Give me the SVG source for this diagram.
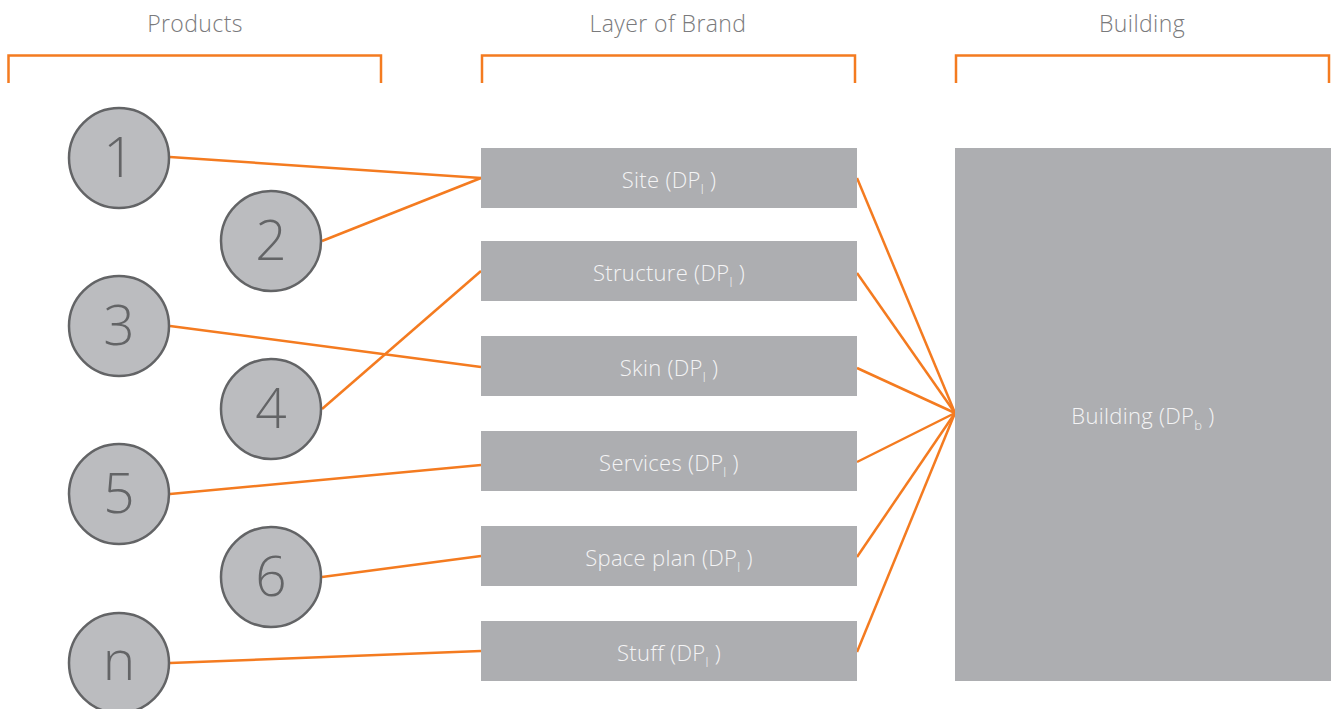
<svg xmlns="http://www.w3.org/2000/svg" width="1338" height="709" viewBox="0 0 1338 709">
<style>
.hdr{font-family:"Open Sans",Lato,"Liberation Sans",sans-serif;font-weight:300;font-size:23px;letter-spacing:0.4px;fill:#7a7a7c;text-anchor:middle}
.br{fill:none;stroke:#f47b20;stroke-width:2.5}
.c{fill:#bbbcbf;stroke:#636466;stroke-width:2.5}
.num{font-family:"Open Sans",Lato,"Liberation Sans",sans-serif;font-weight:300;font-size:55px;fill:#636466;text-anchor:middle}
.box{fill:#adaeb1}
.lbl{font-family:"Open Sans",Lato,"Liberation Sans",sans-serif;font-weight:300;font-size:22px;letter-spacing:0.3px;fill:#f4f4f5;text-anchor:middle}
.sub{font-size:13px}
.ln{stroke:#f47b20;stroke-width:2.5;fill:none}
</style>
<g id="headers">
<text class="hdr" x="195" y="32">Products</text>
<text class="hdr" x="668" y="32">Layer of Brand</text>
<text class="hdr" x="1142" y="32">Building</text>
<path class="br" d="M8.5 83V55.5H381V83"/>
<path class="br" d="M482 83V55.5H855V83"/>
<path class="br" d="M956 83V55.5H1329V83"/>
</g>
<g id="connectors">
<line class="ln" x1="170" y1="157" x2="481" y2="178"/>
<line class="ln" x1="322" y1="241" x2="481" y2="178"/>
<line class="ln" x1="170" y1="326" x2="481" y2="367"/>
<line class="ln" x1="322" y1="409" x2="481" y2="271"/>
<line class="ln" x1="170" y1="494" x2="481" y2="465"/>
<line class="ln" x1="322" y1="577" x2="481" y2="556"/>
<line class="ln" x1="170" y1="663" x2="481" y2="651"/>
<line class="ln" x1="857" y1="178" x2="955" y2="413"/>
<line class="ln" x1="857" y1="273" x2="955" y2="413"/>
<line class="ln" x1="857" y1="368" x2="955" y2="413"/>
<line class="ln" x1="857" y1="462" x2="955" y2="413"/>
<line class="ln" x1="857" y1="557" x2="955" y2="413"/>
<line class="ln" x1="857" y1="652" x2="955" y2="413"/>
</g>
<g id="p1"><circle class="c" cx="119" cy="158" r="50"/><text class="num" x="119" y="177">1</text></g>
<g id="p2"><circle class="c" cx="271" cy="241" r="50"/><text class="num" x="271" y="260">2</text></g>
<g id="p3"><circle class="c" cx="119" cy="326" r="50"/><text class="num" x="119" y="345">3</text></g>
<g id="p4"><circle class="c" cx="271" cy="409" r="50"/><text class="num" x="271" y="428">4</text></g>
<g id="p5"><circle class="c" cx="119" cy="494" r="50"/><text class="num" x="119" y="513">5</text></g>
<g id="p6"><circle class="c" cx="271" cy="577" r="50"/><text class="num" x="271" y="596">6</text></g>
<g id="pn"><circle class="c" cx="119" cy="663" r="50"/><text class="num" x="119" y="680">n</text></g>
<g id="site"><rect class="box" x="481" y="148" width="376" height="60"/><text class="lbl" x="669" y="188">Site (DP<tspan class="sub" dy="6">l</tspan><tspan dy="-6"> )</tspan></text></g>
<g id="structure"><rect class="box" x="481" y="241" width="376" height="60"/><text class="lbl" x="669" y="281">Structure (DP<tspan class="sub" dy="6">l</tspan><tspan dy="-6"> )</tspan></text></g>
<g id="skin"><rect class="box" x="481" y="336" width="376" height="60"/><text class="lbl" x="669" y="376">Skin (DP<tspan class="sub" dy="6">l</tspan><tspan dy="-6"> )</tspan></text></g>
<g id="services"><rect class="box" x="481" y="431" width="376" height="60"/><text class="lbl" x="669" y="471">Services (DP<tspan class="sub" dy="6">l</tspan><tspan dy="-6"> )</tspan></text></g>
<g id="spaceplan"><rect class="box" x="481" y="526" width="376" height="60"/><text class="lbl" x="669" y="566">Space plan (DP<tspan class="sub" dy="6">l</tspan><tspan dy="-6"> )</tspan></text></g>
<g id="stuff"><rect class="box" x="481" y="621" width="376" height="60"/><text class="lbl" x="669" y="661">Stuff (DP<tspan class="sub" dy="6">l</tspan><tspan dy="-6"> )</tspan></text></g>
<g id="building"><rect class="box" x="955" y="148" width="376" height="533"/><text class="lbl" x="1143" y="424">Building (DP<tspan class="sub" dy="6">b</tspan><tspan dy="-6"> )</tspan></text></g>
</svg>
